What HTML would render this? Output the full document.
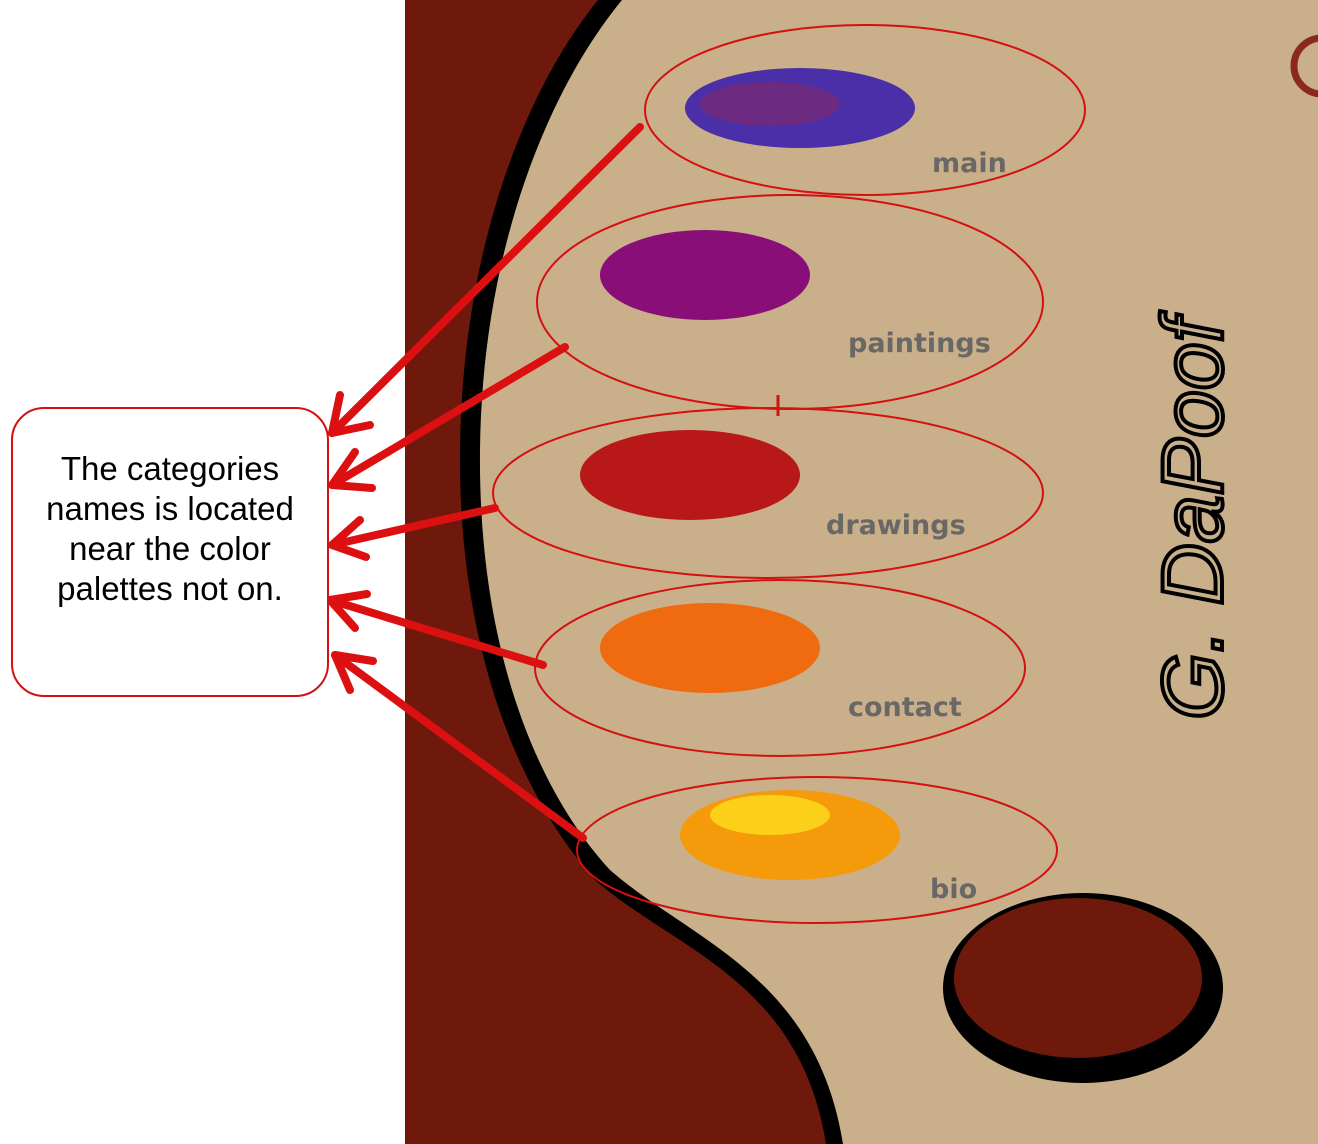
<!DOCTYPE html>
<html><head><meta charset="utf-8"><style>
html,body{margin:0;padding:0;background:#fff}
svg{display:block}
text{font-family:"Liberation Sans",sans-serif}
text.lbl{font-family:"DejaVu Sans",sans-serif;font-weight:bold;font-size:27px;fill:#6a6866}
</style></head><body>
<svg width="1318" height="1144" viewBox="0 0 1318 1144">
<rect x="0" y="0" width="1318" height="1144" fill="#fff"/>
<rect x="405" y="0" width="913" height="1144" fill="#6f190d"/>
<path d="M598,0 C525,90 462,250 460,450 C458,640 515,790 595,880 C675,950 800,980 826,1144 L1318,1144 L1318,0 Z" fill="#000"/>
<path d="M622,0 C548,90 482,250 480,450 C478,640 532,785 610,870 C690,940 816,975 843,1144 L1318,1144 L1318,0 Z" fill="#c9b08a"/>
<ellipse cx="1083" cy="988" rx="140" ry="95" fill="#000"/>
<ellipse cx="1078" cy="978" rx="124" ry="80" fill="#6f190d"/>
<circle cx="1322" cy="66" r="28" fill="none" stroke="#8a2a1c" stroke-width="7"/>
<ellipse cx="800" cy="108" rx="115" ry="40" fill="#4a2fa8"/>
<ellipse cx="770" cy="104" rx="70" ry="22" fill="#7a2a70" opacity=".7"/>
<ellipse cx="705" cy="275" rx="105" ry="45" fill="#8a0e78"/>
<ellipse cx="690" cy="475" rx="110" ry="45" fill="#b81818"/>
<ellipse cx="710" cy="648" rx="110" ry="45" fill="#f06a10"/>
<ellipse cx="790" cy="835" rx="110" ry="45" fill="#f59a0a"/>
<ellipse cx="770" cy="815" rx="60" ry="20" fill="#fcd018"/>
<text class="lbl" x="932" y="172">main</text>
<text class="lbl" x="848" y="352">paintings</text>
<text class="lbl" x="826" y="534">drawings</text>
<text class="lbl" x="848" y="716">contact</text>
<text class="lbl" x="930" y="898">bio</text>
<text transform="translate(1222,720) rotate(-90)" font-style="italic" font-size="86" fill="none" stroke="#000" stroke-width="4">G. DaPoof</text>
<g fill="none" stroke="#d41010" stroke-width="2">
<ellipse cx="865" cy="110" rx="220" ry="85"/>
<ellipse cx="790" cy="302" rx="253" ry="107"/>
<ellipse cx="768" cy="493" rx="275" ry="85"/>
<ellipse cx="780" cy="668" rx="245" ry="88"/>
<ellipse cx="817" cy="850" rx="240" ry="73"/>
</g>
<line x1="778" y1="395" x2="778" y2="416" stroke="#d41010" stroke-width="3"/>
<g stroke="#dc1010" stroke-width="8" fill="none" stroke-linecap="round" stroke-linejoin="round">
<g><line x1="640" y1="127" x2="332" y2="433"/><polyline points="340,395 332,433 370,425"/></g>
<g><line x1="565" y1="347" x2="332" y2="485"/><polyline points="355,452 332,485 372,488"/></g>
<g><line x1="495" y1="508" x2="332" y2="545"/><polyline points="360,520 332,545 366,557"/></g>
<g><line x1="543" y1="665" x2="330" y2="600"/><polyline points="367,594 330,600 355,628"/></g>
<g><line x1="583" y1="838" x2="335" y2="655"/><polyline points="373,661 335,655 350,690"/></g>
</g>
<rect x="12" y="408" width="316" height="288" rx="32" fill="#fff" stroke="#d41010" stroke-width="2"/>
<g font-size="33" fill="#000" text-anchor="middle">
<text x="170" y="480">The categories</text>
<text x="170" y="520">names is located</text>
<text x="170" y="560">near the color</text>
<text x="170" y="600">palettes not on.</text>
</g>
</svg>
</body></html>
